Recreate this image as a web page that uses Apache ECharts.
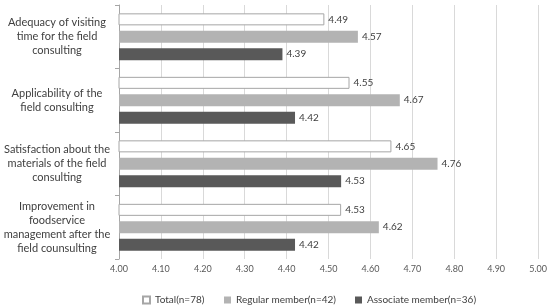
<!DOCTYPE html>
<html>
<head>
<meta charset="utf-8">
<script src="https://cdn.jsdelivr.net/npm/echarts@6/dist/echarts.min.js"></script>
<style>
  html, body { margin: 0; padding: 0; background: #fff; }
  #chart { width: 550px; height: 306px; }
</style>
</head>
<body>
<div id="chart"></div>
<script>
const categories = [
  'Adequacy of visiting\ntime for the field\nconsulting',
  'Applicability of the\nfield consulting',
  'Satisfaction about the\nmaterials of the field\nconsulting',
  'Improvement in\nfoodservice\nmanagement after the\nfield counsulting'
];
const seriesNames = ['Total(n=78)', 'Regular member(n=42)', 'Associate member(n=36)'];
const totalValues = [4.49, 4.55, 4.65, 4.53];
const regularValues = [4.57, 4.67, 4.76, 4.62];
const associateValues = [4.39, 4.42, 4.53, 4.42];

const fontFamily = 'Lato, "Noto Sans", sans-serif';
const legendLefts = [142, 224, 355];

function barSeries(name, data, color, border) {
  return {
    name: name,
    type: 'bar',
    data: data,
    barWidth: 12,
    barGap: '45%',
    itemStyle: { color: color, borderColor: border, borderWidth: border ? 1 : 0 },
    label: {
      show: true,
      position: 'right',
      distance: 4,
      formatter: p => p.value.toFixed(2),
      color: '#404040',
      fontSize: 10,
      fontFamily: fontFamily
    }
  };
}

// one legend per item so the spacing follows the picture
const legends = seriesNames.map((name, i) => ({
  bottom: 1,
  left: legendLefts[i],
  padding: 0,
  itemWidth: 7,
  itemHeight: 7,
  itemGap: 0,
  icon: 'rect',
  textStyle: { color: '#404040', fontSize: 10, fontFamily: fontFamily },
  data: [name]
}));

const chart = echarts.init(document.getElementById('chart'));
chart.setOption({
  animation: false,
  grid: { left: 119, right: 9, top: 5, bottom: 47 },
  legend: legends,
  xAxis: {
    type: 'value',
    min: 4.0,
    max: 5.0,
    interval: 0.1,
    axisLine: { show: false },
    axisTick: { show: false },
    axisLabel: {
      formatter: v => v.toFixed(2),
      color: '#595959',
      fontSize: 9,
      fontFamily: fontFamily,
      margin: 6
    },
    splitLine: { show: true, lineStyle: { color: '#d9d9d9', width: 1 } }
  },
  yAxis: {
    type: 'category',
    data: categories,
    inverse: true,
    axisLine: { show: true, lineStyle: { color: '#a6a6a6' } },
    axisTick: { show: true, length: 4, lineStyle: { color: '#a6a6a6' } },
    axisLabel: {
      align: 'center',
      margin: 62,
      color: '#404040',
      fontSize: 11,
      lineHeight: 14,
      fontFamily: fontFamily
    }
  },
  series: [
    barSeries(seriesNames[0], totalValues, '#ffffff', '#a6a6a6'),
    barSeries(seriesNames[1], regularValues, '#b3b3b3', null),
    barSeries(seriesNames[2], associateValues, '#595959', null)
  ]
});
</script>
</body>
</html>
